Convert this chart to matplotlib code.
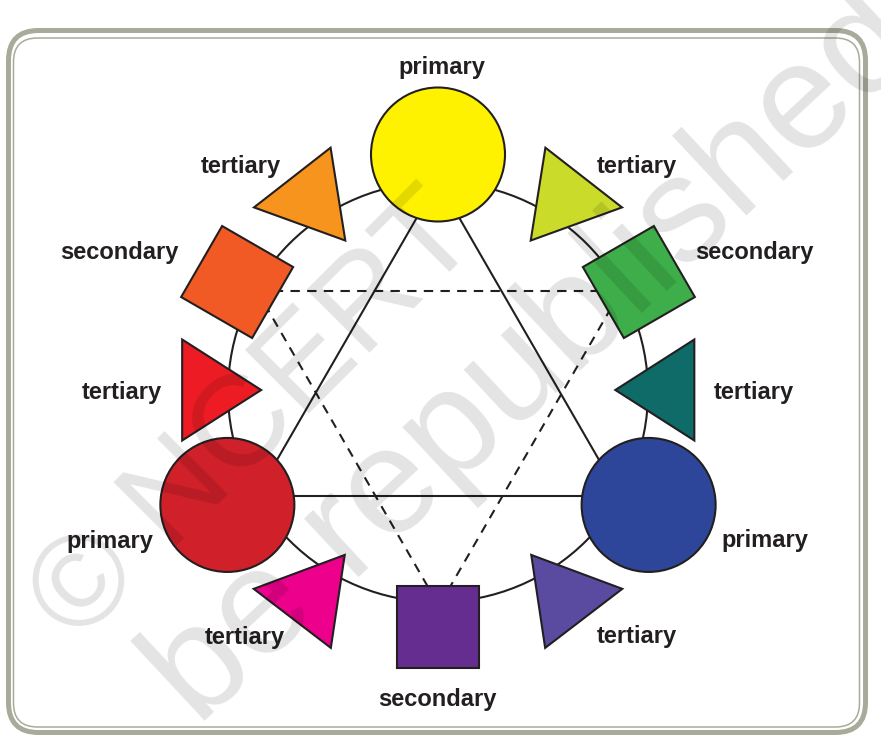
import numpy as np
import matplotlib
matplotlib.use('Agg')
import matplotlib.pyplot as plt
from matplotlib import patches

# colour wheel items, clockwise from the top
kinds = ['primary', 'tertiary', 'secondary', 'tertiary', 'primary', 'tertiary',
         'secondary', 'tertiary', 'primary', 'tertiary', 'secondary', 'tertiary']
shapes = ['circle', 'tri', 'square', 'tri', 'circle', 'tri',
          'square', 'tri', 'circle', 'tri', 'square', 'tri']
colors = ['#FFF200', '#CBDB2A', '#3DAE49', '#0E6B68', '#2E4699', '#5B4BA0',
          '#662D91', '#EC008C', '#D0202A', '#ED1C24', '#F15A24', '#F7941D']
watermark = ['\u00a9 NCERT', 'be republished']

# layout (pixels, image coords) -----------------------------------------
W, H = 881, 741
cx, cy = 438, 392          # wheel centre
wheel_r = 210
item_ang = [90, 56.5, 28.7, 0.5, -28.2, -58, -90, -122, -151.8, 179.5, 151.3, 123.5]
item_dist = [237.5, 232, 229, 230, 239, 242, 234.5, 242, 239, 229.5, 229, 232]
item_rot = [0, -9, 30, 180, 0, 8.5, 0, 171.5, 0, 0, -30, 189]
label_xy = [(442, 74), (241, 173), (119, 259), (122, 399), (110, 548), (245, 644),
            (437, 706), (637, 643), (765, 547), (754, 399), (754, 259), (637, 173)]

edge = '#231F20'
lw = 1.5


def place(local, ang, x0, y0):
    # rotate local math-coords points and move them into image coords
    t = np.radians(ang)
    c, s = np.cos(t), np.sin(t)
    pts = []
    for px, py in local:
        rx = px * c - py * s
        ry = px * s + py * c
        pts.append((x0 + rx, y0 - ry))
    return pts


fig = plt.figure(figsize=(W / 100, H / 100), dpi=100)
ax = fig.add_axes([0, 0, 1, 1])
ax.set_xlim(0, W)
ax.set_ylim(H, 0)
ax.axis('off')

# frame
frame_col = '#A9AB9A'
ax.add_patch(patches.FancyBboxPatch((8.5, 30.5), 857, 702,
                                    boxstyle='round,pad=0,rounding_size=30',
                                    fill=False, ec=frame_col, lw=3.6, zorder=1))
ax.add_patch(patches.FancyBboxPatch((13.5, 38), 846, 689,
                                    boxstyle='round,pad=0,rounding_size=24',
                                    fill=False, ec=frame_col, lw=1.1, zorder=1))

# wheel
ax.add_patch(patches.Circle((cx, cy), wheel_r, fill=False, ec=edge, lw=lw, zorder=2))

# primary triangle (solid) and secondary triangle (dashed)
solid = place([(wheel_r * np.cos(np.radians(a)), wheel_r * np.sin(np.radians(a)))
               for a in (90, 210, 330)], 0, cx, cy - 1)
dashed = place([(wheel_r * np.cos(np.radians(a)), wheel_r * np.sin(np.radians(a)))
                for a in (150, 30, 270)], 0, cx + 1, cy + 4)
ax.add_patch(patches.Polygon(solid, closed=True, fill=False, ec=edge, lw=lw, zorder=2))
ax.add_patch(patches.Polygon(dashed, closed=True, fill=False, ec=edge, lw=lw,
                             ls=(0, (4.5, 3.5)), zorder=2))

# shapes
for i in range(len(kinds)):
    a = np.radians(item_ang[i])
    x0 = cx + item_dist[i] * np.cos(a)
    y0 = cy - item_dist[i] * np.sin(a)
    if shapes[i] == 'circle':
        p = patches.Circle((x0, y0), 67, fc=colors[i], ec=edge, lw=lw, zorder=3)
    elif shapes[i] == 'square':
        hs = 41
        pts = place([(-hs, -hs), (hs, -hs), (hs, hs), (-hs, hs)], item_rot[i], x0, y0)
        p = patches.Polygon(pts, closed=True, fc=colors[i], ec=edge, lw=lw, zorder=3)
    else:
        side = abs(np.cos(np.radians(item_rot[i]))) > 0.999
        b, h = (101, 79) if side else (94, 85)
        pts = place([(2 * h / 3, 0), (-h / 3, b / 2), (-h / 3, -b / 2)], item_rot[i], x0, y0)
        p = patches.Polygon(pts, closed=True, fc=colors[i], ec=edge, lw=lw, zorder=3)
    p.set_joinstyle('miter')
    ax.add_patch(p)

# labels
for i, k in enumerate(kinds):
    ax.text(label_xy[i][0], label_xy[i][1], k, ha='center', va='baseline',
            fontsize=17, fontweight='bold', family='Liberation Sans', color=edge, zorder=4)

# watermark
ax.text(256, 419, watermark[0], rotation=45, ha='center', va='center',
        rotation_mode='anchor', fontsize=93, family='Liberation Sans',
        color='black', alpha=0.11, zorder=5)
ax.text(534, 360, watermark[1], rotation=43, ha='center', va='center',
        rotation_mode='anchor', fontsize=109, family='Liberation Sans',
        color='black', alpha=0.11, zorder=5)

fig.savefig('out.png', dpi=100, facecolor='white')
